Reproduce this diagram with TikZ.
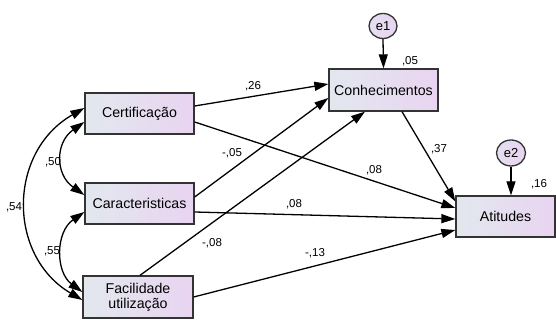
\documentclass[tikz,border=0pt]{standalone}
\usepackage{fontspec}
\setmainfont{Liberation Sans}
\usetikzlibrary{arrows.meta,calc,shapes.geometric}
\definecolor{bleft}{HTML}{E2E8EE}
\definecolor{bright}{HTML}{E9D4F1}
\definecolor{bord}{HTML}{333333}
\begin{document}
\begin{tikzpicture}[x=1pt,y=1pt,
  var/.style={draw=bord,line width=1.3pt,left color=bleft,right color=bright,
    minimum width=109pt,minimum height=41pt,inner sep=0pt,align=center,
    font=\fontsize{14.2}{15}\selectfont},
  err/.style={draw=bord,line width=1.3pt,ellipse,left color=bleft!50!bright,right color=bright,
    minimum width=28pt,minimum height=25pt,inner sep=0pt,font=\fontsize{13}{14}\selectfont},
  path/.style={line width=1.3pt,-{Triangle[length=14pt,width=9pt]}},
  cov/.style={line width=1.3pt,{Triangle[length=14pt,width=9pt]}-{Triangle[length=14pt,width=9pt]}},
  lab/.style={font=\fontsize{11.5}{12}\selectfont,inner sep=0pt}]
\useasboundingbox (0,0) rectangle (556,320);
\node[var] (cert) at (139.5,206.5) {Certificação};
\node[var] (car) at (139.5,116.5) {Caracteristicas};
\node[var,minimum width=110pt,minimum height=42pt] (fac) at (138,23) {Facilidade\\utilização};
\node[var,minimum height=42pt] (con) at (383.5,230) {Conhecimentos};
\node[var,minimum width=99pt] (ati) at (505.5,103.5) {Atitudes};
\node[err] (e1) at (383,294) {e1};
\node[err,minimum width=29pt,minimum height=26pt] (e2) at (511,167) {e2};
% paths
\draw[path] ($(cert.east)+(0,7.5)$) -- ($(con.west)+(0,6)$);
\draw[path] ($(car.east)+(0,6.5)$) -- ($(con.west)+(0,-8)$);
\draw[path] ($(fac.north)+(2,0)$) -- ($(con.south)+(-18.5,0)$);
\draw[path] ($(cert.east)+(0,-8.5)$) -- ($(ati.west)+(0,8.5)$);
\draw[path] ($(car.east)+(0,-8.5)$) -- ($(ati.west)+(0,-2.5)$);
\draw[path] (fac.east) -- ($(ati.west)+(0,-13.5)$);
\draw[path] ($(con.south)+(18.5,0)$) -- ($(ati.west)+(0,15)$);
\draw[path] (e1.south) -- (con.north);
\draw[path] (e2.south) -- ($(ati.north)+(5.5,0)$);
% covariances
\coordinate (c50a) at ($(cert.west)+(0,-8.5)$);
\coordinate (c50b) at ($(car.west)+(0,8.5)$);
\draw[cov] (c50a) .. controls ($(c50a)+(-29.3,-20.5)$) and ($(c50b)+(-29.3,20.5)$) .. (c50b);
\coordinate (c55a) at ($(car.west)+(0,-8.5)$);
\coordinate (c55b) at ($(fac.west)+(0,5)$);
\draw[cov] (c55a) .. controls ($(c55a)+(-29,-20)$) and ($(c55b)+(-27,20)$) .. (c55b);
\coordinate (c54a) at ($(cert.west)+(0,5.5)$);
\coordinate (c54b) at ($(fac.west)+(0,-3)$);
\draw[cov] (c54a) .. controls ($(c54a)+(-77,-44)$) and ($(c54b)+(-75,44)$) .. (c54b);
% labels
\node[lab] (l26) at (253,234) {,26};
\node[lab] (l05a) at (232,167) {-,05};
\node[lab] (l08a) at (374,150) {,08};
\node[lab] (l08b) at (294,116) {,08};
\node[lab] (l08c) at (212,77) {-,08};
\node[lab] (l13) at (315,67) {-,13};
\node[lab] (l37) at (439,171) {,37};
\node[lab] (l05) at (410,259) {,05};
\node[lab] (l16) at (539,136) {,16};
\node[lab] (l50) at (53,158) {,50};
\node[lab] (l55) at (52,69) {,55};
\node[lab] (l54) at (14,113) {,54};
\end{tikzpicture}
\end{document}
